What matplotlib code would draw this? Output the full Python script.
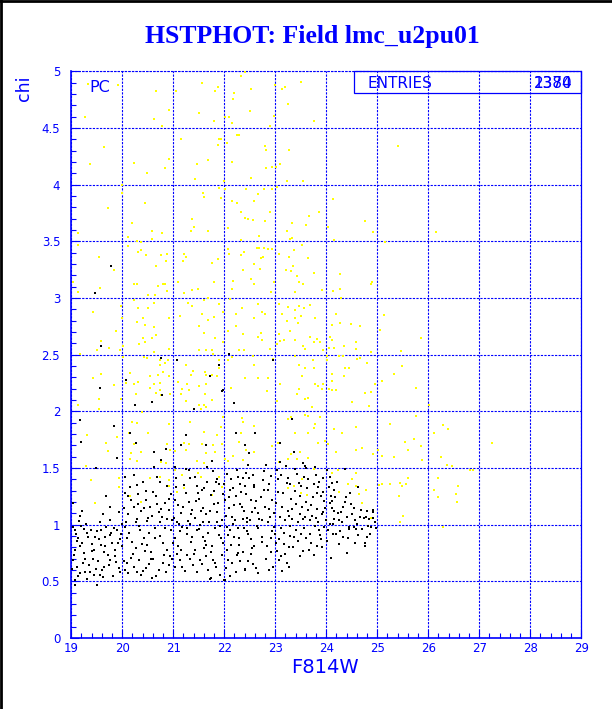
import numpy as np
import matplotlib
matplotlib.use('Agg')
import matplotlib.pyplot as plt
from matplotlib.patches import Rectangle
from matplotlib.lines import Line2D
from matplotlib.ticker import MultipleLocator, FuncFormatter

# points (F814W, chi); yellow = rejected, black = kept
yellow_pts = [
    # top left
    (19.32, 4.89), (19.92, 4.88), (20.66, 4.83), (21.05, 4.83), (21.56, 4.90), (21.87, 4.86), (21.81, 4.83),
    (20.91, 4.66), (21.50, 4.63), (19.27, 4.60), (20.63, 4.58), (20.78, 4.52), (21.80, 4.56), (21.16, 4.40),
    (21.90, 4.40), (19.64, 4.33), (21.88, 4.35), (20.91, 4.23), (20.22, 4.19), (19.37, 4.18), (20.83, 4.15),
    (21.46, 4.18), (21.68, 4.22), (20.48, 4.10), (21.42, 4.05), (19.99, 4.00), (21.89, 3.97), (19.99, 3.93),
    (21.58, 3.93), (21.61, 3.89), (20.44, 3.84), (19.72, 3.79), (21.37, 3.70), (21.41, 3.63), (20.20, 3.66),
    (19.14, 3.57), (20.58, 3.59), (20.78, 3.57), (21.34, 3.59), (21.69, 3.59), (20.11, 3.54), (20.58, 3.52),
    (20.28, 3.50), (19.14, 3.47), (20.11, 3.46), (20.36, 3.49), (20.31, 3.41), (20.36, 3.42), (20.46, 3.38),
    (20.75, 3.38), (20.87, 3.39), (21.21, 3.39), (21.25, 3.36), (19.54, 3.36), (21.88, 3.34),
    # top middle
    (22.41, 4.99), (22.33, 4.96), (23.50, 4.91), (22.52, 4.84), (22.99, 4.88), (23.14, 4.84), (23.19, 4.86),
    (22.20, 4.81), (22.17, 4.76), (23.25, 4.71), (22.51, 4.65), (22.01, 4.60), (22.09, 4.60), (22.98, 4.61),
    (22.16, 4.54), (22.90, 4.52), (23.76, 4.56), (22.24, 4.44), (22.29, 4.44), (21.93, 4.40), (22.05, 4.37),
    (22.80, 4.34), (22.82, 4.31), (23.27, 4.31), (25.41, 4.34), (22.16, 4.20), (22.82, 4.15), (22.94, 4.16),
    (23.02, 4.16), (23.10, 4.18), (22.52, 4.06), (23.23, 4.03), (23.54, 4.03), (22.00, 4.03), (22.01, 3.96),
    (22.43, 3.96), (22.77, 3.96), (22.94, 3.96), (23.03, 3.98), (21.93, 3.88), (22.16, 3.86), (22.25, 3.84),
    (22.59, 3.86), (22.67, 3.92), (22.90, 3.76), (22.33, 3.76), (22.41, 3.71), (22.47, 3.70), (22.56, 3.69),
    (22.80, 3.68), (23.66, 3.72), (23.86, 3.76), (23.32, 3.66), (23.61, 3.64), (24.04, 3.63), (24.14, 3.87),
    (22.08, 3.62), (23.23, 3.59), (22.68, 3.55), (22.33, 3.51), (23.29, 3.52), (23.33, 3.53), (24.16, 3.51),
    (24.75, 3.68), (24.92, 3.58), (25.15, 3.49), (23.53, 3.47), (22.08, 3.43), (22.10, 3.39), (22.64, 3.44),
    (22.68, 3.44), (22.78, 3.44), (22.86, 3.43), (22.94, 3.43), (22.39, 3.41), (23.37, 3.42), (23.07, 3.39),
    (23.27, 3.36), (22.75, 3.36), (22.72, 3.35), (23.65, 3.35), (22.33, 3.38),
    (26.16, 3.58), (25.86, 2.65), (25.46, 2.53), (25.48, 2.40),
    # middle left
    (21.76, 3.31), (22.58, 3.30), (22.36, 3.25), (20.67, 3.28), (20.86, 3.33), (21.20, 3.33), (19.84, 3.25),
    (19.03, 3.14), (19.56, 3.09), (19.13, 3.05), (20.23, 3.12), (20.28, 3.12), (20.70, 3.11), (20.79, 3.12),
    (20.83, 3.12), (20.87, 3.06), (21.09, 3.14), (21.37, 3.07), (21.48, 3.08), (21.21, 3.04), (21.80, 3.14),
    (22.18, 3.15), (22.52, 3.17), (22.58, 3.12), (22.16, 3.08), (20.50, 3.03), (20.65, 3.03), (20.23, 2.98),
    (20.63, 2.96), (21.29, 2.96), (21.37, 2.93), (21.61, 2.98), (21.69, 3.00), (21.89, 2.95), (22.12, 2.99),
    (22.35, 2.91), (22.67, 2.95), (19.97, 2.93), (19.42, 2.88), (20.31, 2.91), (20.50, 2.91), (20.91, 2.82),
    (21.14, 2.84), (21.56, 2.86), (21.80, 2.83), (21.69, 2.81), (21.98, 2.88), (22.22, 2.86), (22.59, 2.82),
    (20.29, 2.79), (20.41, 2.82), (20.44, 2.76), (20.62, 2.74), (19.88, 2.71), (19.99, 2.82), (21.50, 2.75),
    (21.61, 2.69), (22.08, 2.71), (22.23, 2.75), (22.36, 2.68), (22.66, 2.66), (20.66, 2.67), (20.41, 2.65),
    (20.59, 2.65), (20.33, 2.59), (20.44, 2.61), (19.59, 2.62), (19.73, 2.56), (19.95, 2.54), (19.51, 2.54),
    (20.01, 2.58), (20.91, 2.55), (21.51, 2.54), (21.65, 2.54), (21.75, 2.54), (21.77, 2.51), (21.98, 2.61),
    (21.82, 2.65), (22.29, 2.54), (22.39, 2.54), (19.18, 2.51), (20.01, 2.48), (20.42, 2.48), (20.48, 2.47),
    (20.62, 2.52), (20.73, 2.45), (20.74, 2.41), (20.83, 2.43), (20.90, 2.45), (21.25, 2.41), (21.39, 2.36),
    (21.63, 2.35), (21.64, 2.32), (21.76, 2.32), (21.89, 2.38), (21.89, 2.45), (22.08, 2.45), (22.16, 2.48),
    (22.57, 2.49), (22.58, 2.41), (19.58, 2.33), (19.43, 2.29), (20.15, 2.34), (20.54, 2.31), (20.70, 2.32),
    (20.80, 2.35), (20.91, 2.31), (21.10, 2.26), (21.26, 2.24), (21.35, 2.32), (21.51, 2.22), (21.65, 2.24),
    (21.86, 2.31), (22.14, 2.21), (22.41, 2.29), (22.67, 2.29), (20.08, 2.25), (20.23, 2.24), (20.31, 2.26),
    (20.62, 2.24), (20.73, 2.25), (19.84, 2.23), (20.54, 2.21), (20.74, 2.19), (21.17, 2.20), (21.31, 2.19),
    # middle right
    (22.70, 3.26), (23.21, 3.25), (23.30, 3.24), (23.34, 3.28), (23.75, 3.22), (23.42, 3.19), (22.97, 3.14),
    (23.46, 3.14), (23.54, 3.12), (24.27, 3.21), (23.92, 3.07), (24.14, 3.06), (24.27, 3.08), (24.90, 3.14),
    (24.87, 3.12), (23.38, 3.05), (22.91, 3.05), (24.28, 3.00), (22.74, 2.88), (22.79, 2.86), (23.07, 2.95),
    (23.25, 2.92), (23.69, 2.94), (23.38, 2.89), (23.46, 2.93), (23.56, 2.91), (23.13, 2.86), (23.50, 2.84),
    (23.78, 2.82), (23.22, 2.80), (23.38, 2.82), (23.44, 2.78), (24.19, 2.86), (24.12, 2.76), (24.27, 2.78),
    (24.48, 2.77), (24.67, 2.75), (25.13, 2.85), (25.05, 2.72), (22.71, 2.69), (23.07, 2.68), (23.29, 2.71),
    (22.73, 2.63), (23.10, 2.62), (23.18, 2.63), (23.04, 2.59), (23.38, 2.63), (23.69, 2.66), (23.81, 2.64),
    (23.76, 2.61), (23.88, 2.61), (23.55, 2.58), (23.58, 2.55), (23.93, 2.54), (24.07, 2.66), (24.11, 2.63),
    (24.05, 2.56), (24.16, 2.56), (24.35, 2.58), (24.58, 2.61), (24.59, 2.55), (24.87, 2.52), (22.90, 2.55),
    (22.96, 2.46), (23.38, 2.49), (23.73, 2.45), (24.02, 2.49), (24.24, 2.49), (24.33, 2.49), (24.02, 2.45),
    (24.61, 2.46), (24.66, 2.47), (24.79, 2.43), (23.46, 2.41), (23.58, 2.38), (23.76, 2.38), (24.36, 2.38),
    (24.44, 2.38), (25.33, 2.33), (23.52, 2.31), (22.86, 2.29), (24.12, 2.33), (24.35, 2.31), (24.12, 2.27),
    (25.10, 2.27), (23.09, 2.24), (23.77, 2.24), (23.93, 2.24), (23.84, 2.22), (23.46, 2.20), (23.92, 2.20),
    (24.05, 2.20), (24.96, 2.24), (25.76, 2.21),
    # lower left
    (19.13, 2.06), (19.55, 2.11), (19.97, 2.11), (20.27, 2.15), (20.66, 2.16), (20.76, 2.14), (20.93, 2.15),
    (21.16, 2.15), (21.25, 2.09), (21.50, 2.06), (21.60, 2.06), (21.65, 2.04), (21.54, 2.02), (21.75, 2.10),
    (21.63, 2.15), (19.54, 2.02), (20.39, 1.99), (20.20, 1.91), (20.29, 1.90), (20.92, 1.89), (21.33, 1.91),
    (21.60, 1.82), (21.86, 1.79), (21.94, 1.86), (21.98, 1.95), (22.35, 1.94), (22.36, 1.91), (22.58, 1.87),
    (22.32, 1.81), (22.29, 1.73), (22.42, 1.66), (22.58, 1.64), (19.30, 1.79), (19.69, 1.72), (19.72, 1.65),
    (19.90, 1.77), (20.14, 1.81), (20.50, 1.81), (20.23, 1.71), (20.18, 1.63), (20.36, 1.64), (20.87, 1.71),
    (20.93, 1.66), (21.04, 1.65), (21.30, 1.71), (21.21, 1.72), (21.24, 1.66), (21.56, 1.71), (21.64, 1.63),
    (21.78, 1.70), (21.82, 1.64), (21.95, 1.71), (22.01, 1.58), (22.08, 1.56), (22.18, 1.61), (22.36, 1.57),
    (20.16, 1.58), (20.29, 1.56), (20.76, 1.55), (20.86, 1.54), (21.46, 1.56), (21.61, 1.54), (19.29, 1.52),
    (20.54, 1.41), (20.73, 1.42), (20.92, 1.39), (21.03, 1.48), (21.18, 1.44), (21.48, 1.46), (21.54, 1.42),
    (21.89, 1.42), (19.93, 1.41), (19.38, 1.39), (19.93, 1.33), (20.16, 1.25), (20.37, 1.20), (21.21, 1.32),
    (20.91, 1.34), (21.08, 1.29), (21.75, 1.26), (21.95, 1.33), (19.46, 1.19),
    # lower middle
    (22.84, 2.18), (23.03, 2.09), (23.43, 2.15), (23.59, 2.11), (23.65, 2.12), (23.72, 2.04), (24.11, 2.19),
    (24.20, 2.19), (24.50, 2.08), (24.75, 2.16), (24.84, 2.05), (24.87, 2.17), (23.30, 1.95), (23.25, 1.93),
    (23.59, 1.97), (23.65, 1.96), (23.88, 1.95), (23.38, 1.81), (23.65, 1.81), (23.75, 1.85), (23.77, 1.89),
    (23.84, 1.72), (23.98, 1.74), (24.03, 1.71), (24.15, 1.84), (24.31, 1.81), (24.58, 1.86), (24.71, 1.68),
    (24.59, 1.66), (24.20, 1.64), (24.92, 1.62), (25.01, 1.66), (25.25, 1.89), (25.09, 1.61), (25.33, 1.60),
    (23.05, 1.72), (22.93, 1.69), (23.08, 1.55), (23.24, 1.58), (23.30, 1.62), (23.43, 1.58), (23.48, 1.64),
    (23.64, 1.59), (23.75, 1.49), (23.52, 1.40), (23.37, 1.34), (23.24, 1.32), (23.50, 1.28), (23.63, 1.26),
    (24.22, 1.48), (24.11, 1.46), (24.58, 1.46), (24.50, 1.40), (24.42, 1.36), (24.59, 1.34), (24.65, 1.27),
    (24.78, 1.31), (24.71, 1.19), (24.88, 1.06), (25.03, 1.35), (25.10, 1.36), (25.24, 1.36), (25.43, 1.25),
    (24.24, 1.29),
    # lower right
    (26.01, 2.06), (25.76, 1.96), (26.28, 1.88), (26.39, 1.84), (26.11, 1.81), (25.72, 1.76), (25.54, 1.73),
    (27.25, 1.72), (25.60, 1.66), (25.85, 1.69), (26.24, 1.60), (25.88, 1.57), (26.36, 1.53), (26.46, 1.52),
    (26.82, 1.48), (26.87, 1.48), (25.61, 1.41), (26.19, 1.41), (26.58, 1.34), (25.44, 1.37), (25.48, 1.34),
    (25.56, 1.36), (26.11, 1.31), (26.54, 1.27), (26.20, 1.24), (26.56, 1.20), (25.50, 1.08), (25.44, 1.02),
    (26.29, 0.98),
]

black_pts = [
    # sparse, above the main clump
    (19.78, 3.28), (19.46, 3.04), (19.58, 2.58), (20.75, 2.47), (21.07, 2.45), (21.89, 2.41), (21.71, 2.31),
    (22.10, 2.51), (20.07, 2.28), (19.56, 2.21), (21.98, 2.19), (22.95, 2.45), (20.24, 2.06), (20.58, 2.08),
    (20.78, 2.14), (21.41, 2.02), (22.20, 2.07), (21.95, 2.18), (19.17, 1.92), (19.84, 1.87), (20.15, 1.81),
    (19.20, 1.73), (19.89, 1.59), (20.27, 1.72), (20.62, 1.64), (20.76, 1.57), (20.86, 1.67), (21.24, 1.79),
    (21.16, 1.70), (21.65, 1.70), (21.75, 1.56), (22.22, 1.81), (22.61, 1.81), (22.41, 1.70), (22.49, 1.63),
    (23.33, 1.93), (23.09, 1.72), (23.37, 1.64), (23.55, 1.54), (23.59, 1.52), (23.77, 1.51), (19.49, 1.50),
    (24.36, 1.49), (24.62, 1.33),
    # chi 1.3 - 1.5
    (20.05, 1.42), (20.23, 1.44), (20.29, 1.35), (20.41, 1.38), (20.62, 1.51), (20.73, 1.38), (20.87, 1.34),
    (21.04, 1.51), (21.05, 1.41), (21.24, 1.49), (21.31, 1.48), (21.43, 1.42), (21.47, 1.34), (21.60, 1.32),
    (21.67, 1.51), (21.78, 1.47), (21.85, 1.40), (21.90, 1.36), (22.05, 1.45), (22.12, 1.31), (22.27, 1.42),
    (22.31, 1.36), (22.37, 1.41), (22.41, 1.34), (22.49, 1.41), (22.59, 1.35),
    # chi 1.0 - 1.3
    (19.04, 1.19), (19.18, 1.08), (19.21, 1.12), (19.69, 1.25), (19.75, 1.16), (19.63, 1.09), (19.76, 1.04),
    (19.93, 1.11), (20.06, 1.28), (20.12, 1.25), (20.18, 1.22), (20.23, 1.16), (20.31, 1.18), (20.37, 1.12),
    (20.46, 1.22), (20.54, 1.16), (20.59, 1.08), (20.67, 1.25), (20.71, 1.11), (20.78, 1.07), (20.83, 1.19),
    (20.91, 1.13), (20.97, 1.04), (21.04, 1.22), (21.10, 1.17), (21.16, 1.10), (21.24, 1.28), (21.30, 1.20),
    (21.37, 1.13), (21.42, 1.06), (21.51, 1.23), (21.59, 1.15), (21.65, 1.09), (21.73, 1.26), (21.80, 1.18),
    (21.86, 1.11), (21.95, 1.04), (22.02, 1.22), (22.10, 1.15), (22.16, 1.07), (22.23, 1.25), (22.31, 1.18),
    (22.39, 1.12), (22.45, 1.06), (22.53, 1.22), (22.61, 1.15), (22.67, 1.10), (20.08, 1.02), (20.28, 1.05),
    (20.49, 1.03), (20.74, 1.02), (21.07, 1.02), (21.33, 1.01), (21.59, 1.02), (21.85, 1.02), (22.18, 1.01),
    (22.44, 1.02),
    # chi 0.75 - 1.0
    (19.04, 0.98), (19.09, 0.92), (19.14, 0.88), (19.17, 0.81), (19.25, 0.96), (19.33, 0.89), (19.41, 0.83),
    (19.44, 0.78), (19.50, 0.94), (19.55, 0.87), (19.59, 0.82), (19.64, 0.76), (19.69, 0.98), (19.75, 0.91),
    (19.80, 0.84), (19.85, 0.78), (19.90, 0.95), (19.95, 0.87), (19.99, 0.81), (19.07, 0.78), (19.24, 0.75),
    (20.06, 0.98), (20.14, 0.93), (20.19, 0.85), (20.27, 0.79), (20.35, 0.95), (20.42, 0.88), (20.49, 0.82),
    (20.57, 0.76), (20.65, 0.97), (20.73, 0.90), (20.80, 0.84), (20.87, 0.78), (20.95, 0.95), (21.03, 0.88),
    (21.10, 0.81), (21.18, 0.98), (21.26, 0.92), (21.34, 0.85), (21.42, 0.78), (21.50, 0.96), (21.58, 0.89),
    (21.65, 0.82), (21.73, 0.76), (21.81, 0.97), (21.89, 0.91), (21.97, 0.84), (22.05, 0.78), (22.12, 0.95),
    (22.20, 0.89), (22.28, 0.82), (22.36, 0.76), (22.44, 0.94), (22.52, 0.87), (22.59, 0.81), (22.67, 0.97),
    # bottom edge of the clump
    (19.04, 0.69), (19.12, 0.63), (19.17, 0.57), (19.07, 0.51), (19.07, 0.47), (19.26, 0.58), (19.35, 0.64),
    (19.43, 0.70), (19.51, 0.47), (19.56, 0.56), (19.65, 0.63), (19.76, 0.69), (19.82, 0.55), (19.93, 0.62),
    (20.03, 0.68), (20.12, 0.57), (20.23, 0.63), (20.32, 0.69), (20.41, 0.59), (20.53, 0.65), (20.61, 0.70),
    (20.71, 0.60), (20.80, 0.66), (20.93, 0.72), (21.04, 0.63), (21.14, 0.69), (21.26, 0.73), (21.39, 0.64),
    (21.52, 0.69), (21.65, 0.72), (21.73, 0.53), (21.84, 0.63), (21.99, 0.51), (22.07, 0.69), (22.24, 0.73),
    (22.40, 0.61), (21.82, 0.66), (21.92, 0.56), (21.71, 0.52), (22.16, 0.66), (22.27, 0.75), (22.40, 0.60),
    (22.57, 0.65), (22.01, 0.51),
    # F814W 22.7 - 24
    (23.04, 1.48), (23.12, 1.44), (23.24, 1.41), (23.29, 1.36), (23.39, 1.30), (23.48, 1.25), (23.60, 1.20),
    (23.71, 1.17), (23.82, 1.14), (23.91, 1.09), (23.09, 1.07), (23.20, 1.04), (23.29, 0.99), (23.41, 0.95),
    (23.50, 0.92), (23.60, 0.88), (23.71, 0.84), (23.81, 0.81), (23.08, 0.69), (23.22, 0.66), (23.14, 0.59),
    (23.33, 1.14), (23.48, 1.09), (23.24, 1.12), (23.59, 1.07), (23.68, 1.04), (23.77, 0.99), (23.85, 0.95),
    (23.93, 1.11), (23.81, 1.28), (23.89, 1.25), (23.95, 0.98), (23.00, 0.92), (23.08, 0.87), (23.17, 0.83),
    (23.29, 0.90), (22.91, 0.76), (23.47, 1.37), (23.56, 1.42), (23.65, 1.40), (23.75, 1.36), (23.84, 1.33),
    (23.93, 1.41), (24.02, 1.48), (24.07, 1.42), (24.11, 1.37), (24.10, 1.25), (23.99, 1.04), (24.07, 1.01),
    (22.76, 1.39), (22.86, 1.31), (22.80, 1.16), (22.90, 1.07), (22.97, 0.98), (22.74, 0.89), (22.83, 0.81),
    (22.93, 1.22), (22.74, 1.04), (22.91, 0.88), (22.96, 0.63),
    # right end of the clump
    (24.66, 1.07), (24.78, 1.07), (24.84, 1.05), (24.87, 0.98), (24.97, 0.97), (24.76, 0.84), (24.75, 0.81),
    (24.40, 0.75), (24.54, 0.98), (24.45, 0.96), (24.70, 0.96), (24.25, 1.04), (24.14, 0.92), (24.22, 1.10),
    (24.29, 1.11), (24.37, 1.20), (24.49, 1.18), (24.15, 1.12), (24.11, 1.15), (24.44, 0.98), (24.58, 0.96),
    (24.73, 1.06), (24.92, 1.06), (24.91, 1.11), (24.19, 0.92), (24.33, 0.89), (24.57, 0.84), (24.79, 0.89),
    (24.54, 1.15), (24.79, 1.12), (24.11, 1.21), (24.16, 1.31),
    # extra points in the dense core
    (20.12, 1.09), (20.33, 0.99), (20.47, 1.30), (20.52, 0.93), (20.69, 1.18), (20.84, 0.97), (20.96, 1.27),
    (21.02, 1.06), (21.13, 0.94), (21.21, 1.35), (21.29, 1.03), (21.36, 0.89), (21.44, 1.21), (21.53, 1.00),
    (21.57, 1.31), (21.69, 0.93), (21.72, 1.12), (21.83, 1.38), (21.91, 0.99), (21.97, 1.27), (22.04, 1.08),
    (22.08, 0.91), (22.14, 1.40), (22.19, 1.17), (22.26, 0.97), (22.33, 1.29), (22.36, 1.05), (22.43, 1.46),
    (22.47, 0.92), (22.55, 1.11), (22.58, 1.33), (22.64, 0.99), (22.71, 1.24), (22.78, 1.47), (22.85, 1.02),
    (22.88, 1.36), (22.94, 0.94), (23.02, 1.19), (23.06, 1.40), (23.11, 0.97), (23.15, 1.28), (23.21, 1.52),
    (23.26, 1.08), (23.31, 1.23), (23.36, 0.89), (23.42, 1.45), (23.45, 1.02), (23.53, 1.16), (23.57, 0.97),
    (23.63, 1.32), (23.66, 0.78), (23.72, 1.08), (23.79, 1.44), (23.83, 1.02), (23.88, 0.91), (23.96, 1.21),
    (24.02, 0.86), (24.05, 1.33), (24.13, 1.01), (24.18, 1.24), (24.27, 0.94), (24.33, 1.16), (24.41, 1.07),
    (24.47, 1.28), (24.56, 1.04), (24.63, 0.91), (24.81, 0.99), (24.92, 1.13),
    (19.22, 0.66), (19.31, 0.52), (19.48, 0.61), (19.62, 0.54), (19.71, 0.73), (19.88, 0.67), (20.05, 0.60),
    (20.18, 0.71), (20.37, 0.56), (20.45, 0.77), (20.66, 0.55), (20.91, 0.64), (21.08, 0.74), (21.22, 0.59),
    (21.47, 0.58), (21.61, 0.79), (21.78, 0.69), (22.03, 0.62), (22.22, 0.58), (22.31, 0.68), (22.52, 0.74),
    (22.66, 0.57), (22.81, 0.70), (23.04, 0.77), (23.19, 0.74), (23.35, 0.80), (23.48, 0.72), (23.92, 0.80),
    (24.09, 0.71), (19.11, 0.86), (19.28, 1.01), (19.38, 0.95), (19.57, 1.02), (19.66, 0.89), (19.83, 0.97),
    (19.97, 0.92), (19.02, 0.61), (19.45, 0.56), (19.19, 0.99),
    # second pass over the core
    (20.03, 1.15), (20.09, 0.88), (20.16, 1.33), (20.21, 0.74), (20.26, 1.02), (20.30, 1.27), (20.38, 0.83),
    (20.43, 1.15), (20.51, 1.06), (20.56, 0.70), (20.61, 1.29), (20.64, 0.88), (20.68, 1.42), (20.76, 1.14),
    (20.82, 0.73), (20.88, 1.05), (20.92, 1.23), (20.99, 0.84), (21.06, 1.33), (21.11, 1.01), (21.15, 0.78),
    (21.19, 1.16), (21.27, 0.97), (21.32, 1.41), (21.35, 1.09), (21.40, 0.74), (21.46, 0.95), (21.49, 1.28),
    (21.55, 1.12), (21.62, 0.86), (21.67, 1.38), (21.70, 1.02), (21.76, 0.81), (21.79, 1.30), (21.87, 1.19),
    (21.93, 0.88), (22.00, 1.36), (22.06, 0.98), (22.09, 1.24), (22.13, 0.82), (22.17, 1.32), (22.21, 1.04),
    (22.25, 1.48), (22.29, 0.88), (22.34, 1.16), (22.38, 0.97), (22.42, 1.27), (22.46, 1.53), (22.50, 1.04),
    (22.54, 0.79), (22.57, 1.44), (22.62, 1.21), (22.69, 1.05), (22.73, 0.85), (22.77, 1.31), (22.82, 1.53),
    (22.87, 1.14), (22.92, 1.43), (22.98, 1.10), (23.01, 0.84), (23.05, 1.29), (23.10, 1.55), (23.13, 1.16),
    (23.18, 0.93), (23.22, 1.37), (23.27, 0.80), (23.33, 1.05), (23.38, 1.49), (23.40, 1.18), (23.44, 0.86),
    (23.51, 1.34), (23.55, 1.05), (23.61, 1.50), (23.64, 1.13), (23.69, 0.92), (23.74, 1.24), (23.80, 1.06),
    (23.86, 1.38), (23.90, 0.87), (23.94, 1.29), (23.98, 1.15), (24.03, 0.95), (24.08, 1.19), (24.15, 1.05),
    (24.21, 1.38), (24.24, 0.83), (24.30, 1.02), (24.38, 1.24), (24.43, 0.88), (24.51, 1.09), (24.60, 1.01),
    (24.68, 1.13), (24.85, 0.92), (24.95, 1.02),
    (19.05, 0.73), (19.08, 0.95), (19.13, 0.55), (19.16, 1.03), (19.21, 0.84), (19.27, 0.70), (19.30, 0.93),
    (19.36, 0.58), (19.40, 0.77), (19.46, 0.89), (19.52, 0.68), (19.58, 0.95), (19.61, 0.60), (19.67, 0.81),
    (19.73, 0.64), (19.78, 0.93), (19.86, 0.72), (19.91, 0.84), (19.96, 0.58), (19.99, 1.01),
    (20.10, 0.66), (20.28, 0.58), (20.47, 0.62), (20.58, 0.53), (20.86, 0.58), (20.98, 0.70), (21.18, 0.63),
    (21.33, 0.70), (21.56, 0.65), (21.69, 0.60), (21.95, 0.73), (22.12, 0.55), (22.46, 0.68), (22.62, 0.62),
    (22.87, 0.60), (23.12, 0.72), (23.26, 0.63), (23.55, 0.77), (23.76, 0.73),
]

title = 'HSTPHOT: Field lmc_u2pu01'
x_title = 'F814W'
y_title = 'chi'
entries = ['2384', '1370']

blue = '#0000ff'
dash = (0, (2.0, 1.2))

yellow = np.array(yellow_pts)
black = np.array(black_pts)

fig = plt.figure(figsize=(6.12, 7.09), dpi=100)
ax = fig.add_axes([0.1165, 0.1001, 0.8333, 0.7993])

ax.plot(yellow[:, 0], yellow[:, 1], ls='none', marker='s', ms=1.9, mew=0, color='#ffff00', zorder=3)
ax.plot(black[:, 0], black[:, 1], ls='none', marker='s', ms=1.9, mew=0, color='black', zorder=4)

ax.set_xlim(19, 29)
ax.set_ylim(0, 5)
ax.xaxis.set_major_locator(MultipleLocator(1))
ax.xaxis.set_minor_locator(MultipleLocator(0.2))
ax.yaxis.set_major_locator(MultipleLocator(0.5))
ax.yaxis.set_minor_locator(MultipleLocator(0.1))
ax.yaxis.set_major_formatter(FuncFormatter(lambda v, p: '%g' % v))

ax.grid(True, which='major', color=blue, lw=0.8, ls=dash, zorder=1)
ax.axhline(5, color=blue, lw=0.8, ls=dash, clip_on=False, zorder=1)

ax.tick_params(which='both', direction='in', colors=blue, top=False, right=False,
               labelsize=8.5, labelcolor=blue)
ax.tick_params(which='major', length=6, width=0.8)
ax.tick_params(which='minor', length=3.3, width=0.8)
ax.tick_params(axis='y', which='major', pad=8)
ax.tick_params(axis='x', which='major', pad=3)

ax.spines['top'].set_visible(False)
for s in ['left', 'bottom', 'right']:
    ax.spines[s].set_color(blue)
ax.spines['left'].set_linewidth(1.2)
ax.spines['bottom'].set_linewidth(1.2)
ax.spines['right'].set_linewidth(0.9)

# stats box
ax.add_patch(Rectangle((0.554, 0.9617), 0.446, 0.0383, transform=ax.transAxes,
                       fill=False, edgecolor=blue, lw=0.9, clip_on=False, zorder=5))
ax.text(0.58, 0.979, 'ENTRIES', transform=ax.transAxes, color=blue, fontsize=11,
        ha='left', va='center', zorder=6)
for e in entries:
    ax.text(0.982, 0.979, e, transform=ax.transAxes, color=blue, fontsize=11,
            ha='right', va='center', zorder=6)
ax.text(0.055, 0.9706, 'PC', transform=ax.transAxes, color=blue, fontsize=11.5,
        ha='center', va='center', zorder=6)

fig.text(0.51, 0.948, title, ha='center', va='center', color=blue,
         fontsize=18.5, fontweight='bold', family='Liberation Serif')
fig.text(0.531, 0.058, x_title, ha='center', va='center', color=blue, fontsize=14)
fig.text(0.039, 0.876, y_title, ha='center', va='center', color=blue, fontsize=12.5, rotation=90)

# window frame on the left and top
fig.add_artist(Line2D([0.002, 0.002], [0, 1], transform=fig.transFigure, color='black', lw=2))
fig.add_artist(Line2D([0, 1], [0.998, 0.998], transform=fig.transFigure, color='black', lw=2))

fig.savefig('out.png', dpi=100, facecolor='white')
